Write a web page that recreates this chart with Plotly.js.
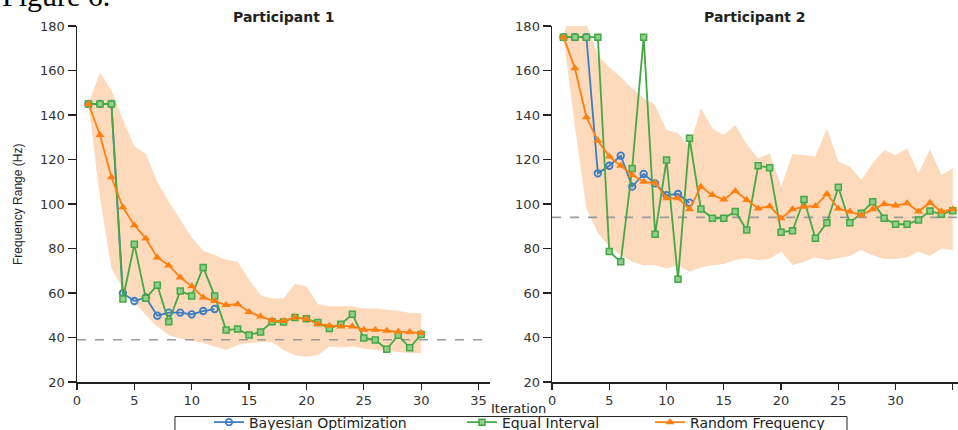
<!DOCTYPE html>
<html>
<head>
<meta charset="utf-8">
<script src="https://cdn.plot.ly/plotly-3.0.1.min.js"></script>
<style>html,body{margin:0;padding:0;background:#fff;}#chart{width:958px;height:430px;}</style>
</head>
<body>
<div id="chart"></div>
<script>
// ---------- Participant 1 ----------
const iterL = [1,2,3,4,5,6,7,8,9,10,11,12,13,14,15,16,17,18,19,20,21,22,23,24,25,26,27,28,29,30];
const boIterL = [1,2,3,4,5,6,7,8,9,10,11,12];
const bayesL = [145,145,145,59.9,56.4,58,49.8,51.2,51.2,50.4,51.9,52.8];
const equalL = [145,145,145,57.3,81.9,57.6,63.5,47.1,60.9,58.7,71.5,58.7,43.4,43.8,41.1,42.5,47.1,47,49,48.4,46.7,44,46,50.4,39.8,38.9,34.7,41,35.4,41.3];
const randomL = [145,131,112,98.5,90.5,84.5,76,72.4,67,63,58,56.4,54.6,55,51.5,49.4,47.7,47.4,49,48.3,46,45.3,45,45,43.5,43.5,43,42.6,42.5,42];
const bandUpperL = [145,159,151,138,126,122.5,110,101,93,85,79,77,75,74,66,59,57.5,57.5,64,63,55,54,54,54,53,53,52.5,52,51,51];
const bandLowerL = [145,103,71,62,56,50,45,41,39.5,38.5,37.5,36,34.4,36.6,37.5,38,38,34.4,32,31.4,32,35.9,35.5,36,35,34.5,34,33.5,33,33];
const refL = 39;

// ---------- Participant 2 ----------
const iterR = [1,2,3,4,5,6,7,8,9,10,11,12,13,14,15,16,17,18,19,20,21,22,23,24,25,26,27,28,29,30,31,32,33,34,35];
const boIterR = [1,2,3,4,5,6,7,8,9,10,11,12];
const bayesR = [175,175,175,113.8,117.2,121.7,107.8,113.5,109.3,104,104.5,100.6];
const equalR = [175,175,175,175,78.6,74,116,175,86.4,119.8,66.2,129.5,97.8,93.6,93.6,96.6,88.3,117.2,116.3,87.3,88,102,84.6,91.6,107.5,91.6,95.8,101,93.6,90.9,90.9,92.8,96.9,95.4,97];
const randomR = [175,161,139,128.4,121.3,117.2,113,110,109.4,102.6,102.6,97.6,107.8,104,102,105.8,101.8,98,99,93.6,97.6,98.8,99.1,104.5,98,96.6,95,97.6,100,99.3,100.3,96.6,100.6,96.6,97.6];
const bandUpperR = [176,192,181,167,161.5,157,152,147.5,144.5,133.3,131.8,125.8,143,134,131,135.5,127,120.5,122.8,107.8,122.5,122,121.3,134,119,116.8,110.8,118.3,124.3,122,125,113.8,124.6,113,116];
const bandLowerR = [175,135,98,87,81,77,74,72.5,72.5,71,72.5,69.6,71.5,72.5,73,74.8,75.6,74.8,75.3,78.6,72.6,74,76,74.8,75.6,76.6,79.3,77,75.3,75.3,76,78.6,76.6,80,79.3];
const refR = 94;

const seriesNames = ['Bayesian Optimization','Equal Interval','Random Frequency'];
const xTicks = [0,5,10,15,20,25,30,35];
const yTicks = [20,40,60,80,100,120,140,160,180];
const panelTitles = ['Participant 1','Participant 2'];

const cBlue = '#3b7cc4', cGreen = '#45a843', cOrange = '#ff7f0e', cBand = 'rgba(252,205,165,0.75)', cRef = '#9a9a9a';
const legendIds = ['legend', 'legend2', 'legend3'];

function band(x, up, lo, xa, ya) {
  return {x: x.concat(x.slice().reverse()), y: up.concat(lo.slice().reverse()),
    xaxis: xa, yaxis: ya, mode: 'lines', fill: 'toself', fillcolor: cBand,
    line: {width: 0, color: cBand}, hoverinfo: 'skip', showlegend: false};
}
function ref(v, xmax, xa, ya) {
  return {x: [0, xmax], y: [v, v], xaxis: xa, yaxis: ya, mode: 'lines',
    line: {color: cRef, width: 1.6, dash: 'dash'}, showlegend: false, hoverinfo: 'skip'};
}
function series(x, y, idx, xa, ya, show) {
  const cols = [cBlue, cGreen, cOrange];
  const markers = [
    {symbol: 'circle-open', size: 6.5, color: cBlue, line: {width: 1.8, color: cBlue}},
    {symbol: 'square', size: 6, color: '#8fd08c', line: {width: 1.5, color: cGreen}},
    {symbol: 'triangle-up', size: 8, color: cOrange, line: {width: 0}}
  ];
  return {x: x, y: y, xaxis: xa, yaxis: ya, mode: 'lines+markers', name: seriesNames[idx],
    line: {color: cols[idx], width: 1.8}, marker: markers[idx], showlegend: show, legend: legendIds[idx]};
}

const data = [
  band(iterL, bandUpperL, bandLowerL, 'x', 'y'),
  ref(refL, 36, 'x', 'y'),
  series(boIterL, bayesL, 0, 'x', 'y', true),
  series(iterL, equalL, 1, 'x', 'y', true),
  series(iterL, randomL, 2, 'x', 'y', true),
  band(iterR, bandUpperR, bandLowerR, 'x2', 'y2'),
  ref(refR, 35.5, 'x2', 'y2'),
  series(boIterR, bayesR, 0, 'x2', 'y2', false),
  series(iterR, equalR, 1, 'x2', 'y2', false),
  series(iterR, randomR, 2, 'x2', 'y2', false)
];

const tickFont = {family: 'DejaVu Sans, sans-serif', size: 13, color: '#333'};
function xax(domain, anchor, range) {
  return {domain: domain, anchor: anchor, range: range, tickvals: xTicks, ticks: 'outside', ticklen: 6,
    tickwidth: 1.3, tickcolor: '#222', showline: true, linecolor: '#222', linewidth: 1.5,
    showgrid: false, zeroline: false, tickfont: tickFont, fixedrange: true, automargin: false};
}
function yax(anchor) {
  return {anchor: anchor, range: [20, 180], tickvals: yTicks, ticks: 'outside', ticklen: 8,
    tickwidth: 1.3, tickcolor: '#222', showline: true, linecolor: '#222', linewidth: 1.5,
    showgrid: false, zeroline: false, tickfont: tickFont, fixedrange: true, automargin: false};
}
function leg(xpaper) {
  return {orientation: 'h', x: xpaper, xanchor: 'left', y: -0.114, yanchor: 'middle',
    borderwidth: 0, bgcolor: 'rgba(0,0,0,0)',
    font: {family: 'DejaVu Sans, sans-serif', size: 14, color: '#222'}, itemwidth: 30};
}

const layout = {
  width: 958, height: 430,
  margin: {l: 77, r: 0, t: 26, b: 48, autoexpand: false},
  paper_bgcolor: '#fff', plot_bgcolor: '#fff',
  xaxis: xax([0, 0.4688], 'y', [0, 36]),
  yaxis: yax('x'),
  xaxis2: xax([0.5392, 1], 'y2', [0, 35.45]),
  yaxis2: yax('x2'),
  showlegend: true,
  legend: leg(0.1498),
  legend2: leg(0.4370),
  legend3: leg(0.6504),
  shapes: [
    {type: 'rect', xref: 'paper', yref: 'paper', x0: 0.1112, x1: 0.874, y0: -0.097, y1: -0.17,
      line: {color: '#222', width: 1}, fillcolor: 'rgba(0,0,0,0)', layer: 'below'}
  ],
  annotations: [
    {text: '<b>' + panelTitles[0] + '</b>', xref: 'paper', yref: 'paper', x: 0.2344, xanchor: 'center', y: 1.025, yanchor: 'middle', showarrow: false,
      font: {family: 'DejaVu Sans, sans-serif', size: 14, color: '#222'}},
    {text: '<b>' + panelTitles[1] + '</b>', xref: 'paper', yref: 'paper', x: 0.7696, xanchor: 'center', y: 1.025, yanchor: 'middle', showarrow: false,
      font: {family: 'DejaVu Sans, sans-serif', size: 14, color: '#222'}},
    {text: 'Iteration', xref: 'paper', yref: 'paper', x: 0.5006, xanchor: 'center', y: -0.0736, yanchor: 'middle', showarrow: false,
      font: {family: 'DejaVu Sans, sans-serif', size: 13, color: '#222'}},
    {text: 'Frequency Range (Hz)', xref: 'paper', yref: 'paper', x: -0.067, y: 0.5, textangle: -90, xanchor: 'center', yanchor: 'middle', showarrow: false,
      font: {family: 'Liberation Sans, Arial, sans-serif', size: 12, color: '#222'}},
    {text: 'Figure 6.', xref: 'paper', yref: 'paper', x: -0.0874, xanchor: 'left', y: 1.034, yanchor: 'bottom', showarrow: false,
      font: {family: 'Liberation Serif, Times New Roman, serif', size: 30, color: '#000'}}
  ]
};

Plotly.newPlot('chart', data, layout, {displayModeBar: false, staticPlot: true});
</script>
</body>
</html>
